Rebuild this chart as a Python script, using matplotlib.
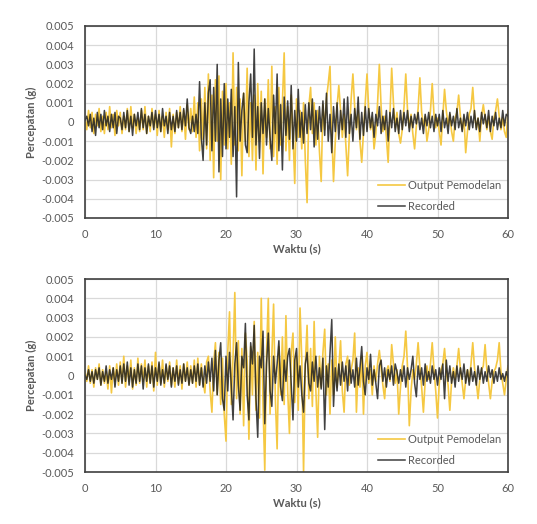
import numpy as np
import matplotlib
matplotlib.use('Agg')
import matplotlib.pyplot as plt
from matplotlib.ticker import FuncFormatter

# acceleration every 0.25 s, in units of 1e-4 g
dt = 0.25

rec_top = [
    1, 3, -2, 4, -5, 2, -7, 5, -3, 4, -4, 6, -2, 3, -5, 4, -3, 5, -6, 3,
    2, -4, 5, -3, 6, -5, 3, -7, 4, -2, 5, -4, 7, -3, 4, -6, 3, -2, 5, -4,
    6, -3, 4, -5, 7, -2, 3, -6, 5, -4, 3, -5, 6, -3, 5, -4, 7, -2, 12, -3,
    -6, 3, -5, 4, -6, 21, -8, -20, 10, -12, 15, 22, -15, 18, -10, 30, -26, 12, -18, 20,
    -14, 12, -8, 17, -18, 8, -39, 31, -10, 6, 15, -12, -16, 10, 25, -8, 38, -12, 8, -19,
    10, -6, 12, -12, 7, -8, -20, 14, -6, 25, -15, 9, -25, 13, -7, 11, -9, 19, -14, 6,
    -10, 17, -8, 5, -11, 9, -6, 10, -4, 12, -13, 6, -9, 8, -5, 11, -7, 15, -10, 4,
    -16, 8, -5, 10, -9, 6, -4, 12, -8, 13, -6, 4, -10, 7, -3, 13, -9, 5, -7, 8,
    -5, 7, -3, 5, -8, 4, -2, 8, -6, 3, -4, 6, -10, 5, -3, 7, -5, 2, -6, 6,
    -4, 5, -2, 6, -5, 3, -3, 4, -1, 5, -4, 2, -6, 4, -2, 5, -3, 3, -5, 4,
    -2, 4, -5, 6, -3, 2, -6, 5, -2, 3, -4, 7, -3, 2, -5, 4, -2, 5, -4, 3,
    -3, 6, -4, 2, -5, 5, -1, 4, -3, 6, -5, 3, -2, 5, -4, 2, -3, 6, -2, 4, 3,
]

mod_top = [
    2, -4, 6, -3, 5, -6, 4, -2, 7, -5, 3, -6, 5, -4, 8, -3, 4, -7, 6, -2,
    5, -6, 3, -4, 7, -5, 8, -3, 4, -6, 2, -5, 6, -4, 8, -6, 3, -5, 7, -3,
    4, -7, 6, -5, 3, -8, 5, -4, 7, -13, 4, -6, 5, -3, 8, -5, 6, -9, 9, -4,
    7, -5, 13, -8, 10, -15, 12, -9, 18, -14, 25, -20, 14, -29, 22, -10, 24, -30, 16, -12,
    20, -14, 10, -22, 36, -12, 18, -15, 12, -28, 15, -10, 28, -18, 10, -20, 14, -25, 20, -10,
    16, -27, 12, -8, 22, -14, 29, -18, 8, -22, 18, -12, 10, 36, -15, 8, -20, 14, -6, -32,
    12, -8, 6, -14, 10, -20, -42, 8, 18, -6, 10, -12, 6, -15, -31, 9, -4, 12, 20, 29,
    -5, -31, -10, 8, 19, 6, -8, 4, -12, -28, -6, 12, 25, 8, -4, 6, -10, -21, -5, 10,
    25, 6, -4, 2, -14, -6, 10, 30, 8, -5, 3, -8, -21, 4, 28, 10, -3, 5, -6, -11,
    -4, 8, 25, 6, -3, 4, -6, -14, -2, 7, 23, 5, -2, 3, -10, -4, 6, 20, 4, -3,
    2, -5, -12, 3, 17, 6, -2, 4, -5, -10, 2, 5, 14, 3, -4, 2, -16, -5, 4, 7,
    18, 4, -3, 2, -10, 3, 9, 2, -4, 3, -5, -9, 2, 6, 12, 3, -4, 2, -5, -8, 6,
]

rec_bot = [
    0, -2, 3, -3, 2, -4, 3, -2, 4, -5, 2, -3, 5, -4, 3, -2, 4, -6, 3, -3,
    5, -4, 6, -3, 7, -5, 4, -6, 3, -4, 6, -3, 5, -7, 4, -3, 6, -4, 5, -6,
    4, -3, 7, -5, 3, -4, 6, -2, 5, -6, 4, -3, 5, -5, 3, -4, 6, -3, 4, -5,
    3, -4, 5, -3, 6, -5, 4, -6, 5, -4, 7, -3, 9, -8, 13, -10, 8, 17, -12, -18,
    10, -8, 12, -6, -23, 6, 17, -5, -18, 10, 4, 27, -10, -23, 17, 6, 26, -12, -32, 10,
    4, 23, -25, 6, 22, -8, -16, 10, -4, 6, 18, -6, -13, 8, -3, 10, 14, -5, -23, 8,
    14, -6, 5, -10, -19, 6, 12, -4, -8, 7, -3, 10, -6, 4, -7, 9, -28, 5, -6, 12,
    29, -16, 4, -8, 6, -5, 7, -3, 5, -8, 8, -4, 3, -6, 9, -5, 4, 15, -3, -10,
    4, -2, 11, -5, 3, -4, -12, 5, 8, -3, 4, -6, 3, -2, 5, -5, 6, 2, -4, 3,
    -3, 5, -6, 4, -2, 3, 10, -4, -11, 5, -2, 4, -5, 6, -3, 2, -4, 5, -2, 3,
    -5, 4, -2, 6, -12, 8, -3, 5, -4, 2, -6, 5, -3, 4, -2, 6, -4, 3, -5, 4,
    -3, 2, -5, 5, -2, 4, -4, 2, -3, 5, -1, 3, -4, 2, -3, 4, -2, 1, -3, 2, -1,
]

mod_bot = [
    2, -3, 5, -4, 3, -6, 4, -2, 6, -5, 3, -4, 2, -7, 5, -9, 4, -3, 6, -5,
    7, -4, 10, -6, 5, -3, 8, -7, 4, -5, 9, -4, 6, -3, 8, -6, 5, -4, 7, -8,
    12, -5, 6, -4, 8, -6, 5, -3, 7, -5, 4, -6, 8, -4, 5, -7, 6, -3, 7, -5,
    5, -4, 8, -6, 9, -5, 6, -3, -9, 7, 10, -8, -19, 6, 17, -10, 12, -15, 9, -20,
    -34, 12, 33, -15, 10, 43, -12, 18, -20, 14, -26, 22, 8, -33, 15, -10, 28, -18, 12, -22,
    40, -15, -49, 12, 40, -20, 10, 37, -12, -38, 15, -10, 20, -15, 31, -8, -30, 12, 22, -14,
    10, -18, 35, 8, -50, 6, 26, -12, 14, -16, 28, -8, -32, 10, -6, 12, 24, -10, 6, -20,
    8, -10, 20, -6, 4, 18, -8, -19, 6, 10, -5, 3, 8, 22, -19, 4, -6, 10, -20, 5,
    12, -4, 3, -10, 5, -3, 6, 13, 4, -5, -12, 2, 5, -3, 16, 6, -4, 3, -20, -6,
    5, 10, 23, 4, -26, -8, 3, -2, 6, 17, 4, -6, -19, -3, 5, -2, 6, 17, 3, -8,
    -22, -4, 3, 6, 14, 2, -5, -18, -3, 4, -2, 5, 14, 3, -4, -12, -2, 3, -3, 6,
    17, 4, -3, -12, -2, 3, 5, 16, 3, -4, -12, -3, 2, 4, 8, 17, 2, -4, -10, -2, 5,
]

x_ticks = [0, 10, 20, 30, 40, 50, 60]
y_ticks = [-0.005, -0.004, -0.003, -0.002, -0.001, 0, 0.001, 0.002, 0.003, 0.004, 0.005]

plt.rcParams['font.family'] = ['Lato', 'DejaVu Sans']
grey = '#595959'
yellow = '#F5C842'

fig = plt.figure(figsize=(5.37, 5.24), dpi=100)
ax1 = fig.add_axes([0.1583, 0.584, 0.7877, 0.3664])
ax2 = fig.add_axes([0.1583, 0.0992, 0.7877, 0.3683])


def fmt(v, _):
    v = round(v, 3)
    return '0' if v == 0 else f'{v:g}'


for ax, rec, mod in [(ax1, rec_top, mod_top), (ax2, rec_bot, mod_bot)]:
    t_mod = np.arange(len(mod)) * dt
    t_rec = np.arange(len(rec)) * dt
    ax.plot(t_mod, np.array(mod) * 1e-4, color=yellow, lw=1.2, label='Output Pemodelan')
    ax.plot(t_rec, np.array(rec) * 1e-4, color='#1f1f1f', lw=1.1, alpha=0.85, label='Recorded')
    ax.set_xlim(0, 60)
    ax.set_ylim(-0.005, 0.005)
    ax.set_xticks(x_ticks)
    ax.set_yticks(y_ticks)
    ax.yaxis.set_major_formatter(FuncFormatter(fmt))
    ax.grid(True, color='#d9d9d9', lw=0.9)
    ax.set_axisbelow(True)
    ax.tick_params(length=0, labelsize=8, labelcolor=grey, pad=8)
    for s in ax.spines.values():
        s.set_color('#404040')
        s.set_linewidth(1.2)
    ax.set_xlabel('Waktu (s)', fontsize=8, color=grey, fontweight='bold', labelpad=2)
    ax.set_ylabel('Percepatan (g)', fontsize=8, color=grey, fontweight='bold', labelpad=3)
    ax.legend(loc='lower left', bbox_to_anchor=(0.67, -0.02), frameon=False,
              fontsize=8, labelcolor=grey, handlelength=2.4, labelspacing=0.9,
              handletextpad=0.3)

fig.savefig('out.png', dpi=100)
